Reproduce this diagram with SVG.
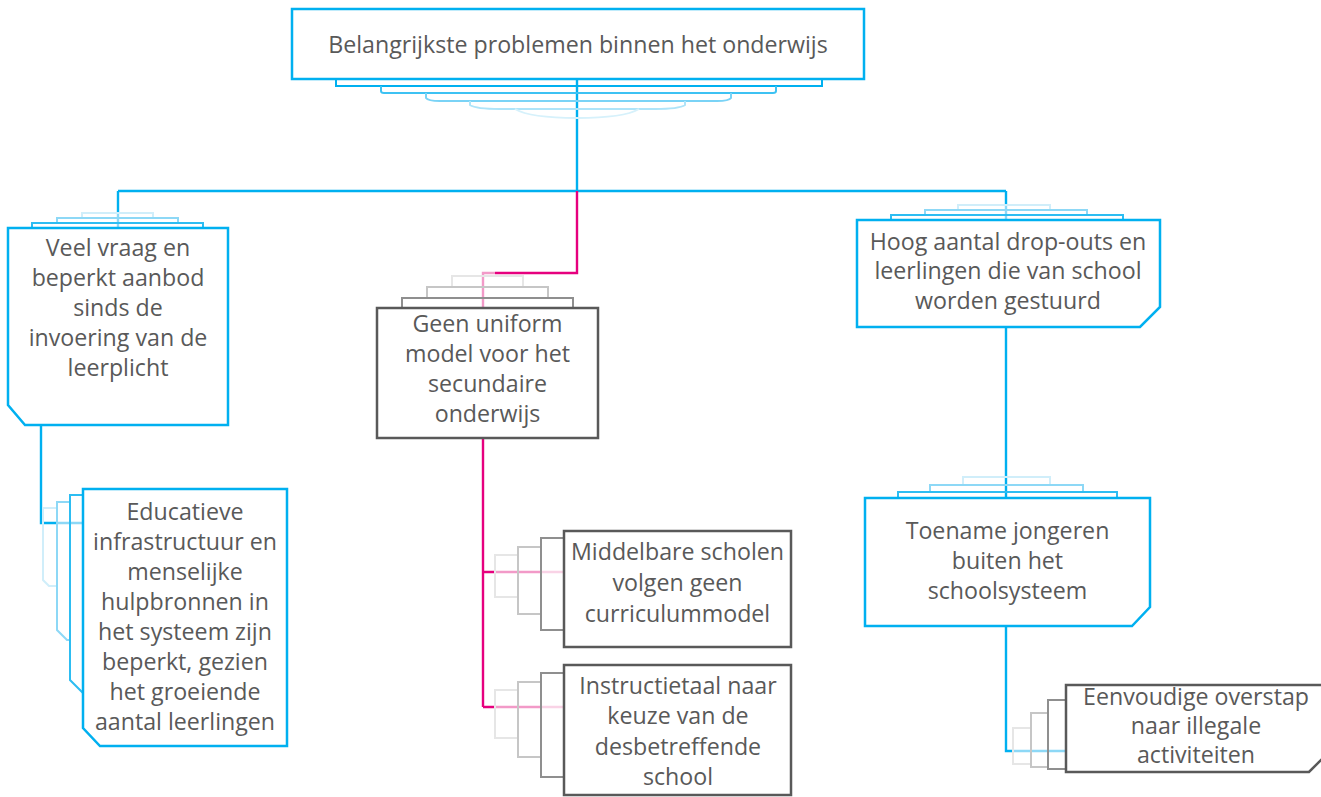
<svg xmlns="http://www.w3.org/2000/svg" width="1321" height="797" viewBox="0 0 1321 797">
<style>
text{font-family:"Open Sans","Liberation Sans",sans-serif;font-size:23.2px;fill:#595959;text-anchor:middle}
.box{fill:#fff;stroke-width:2.5}
.b{stroke:#00b0f0}
.g{stroke:#595959}
.sh{fill:none;stroke-width:2}
.b1{stroke:#2dbdf2}.b2{stroke:#8dd8f6}.b3{stroke:#d0eefa}
.g1{stroke:#8f8f8f}.g2{stroke:#c6c6c6}.g3{stroke:#e6e6e6}
.c{fill:none;stroke-width:2.4}
</style>
<rect width="1321" height="797" fill="#fff"/>
<g id="connectors">
<path class="c b" d="M577,79 V191 M118,191 H1006 M118,191 V213 M1006,191 V205"/>
<path class="c b2" d="M118,213 V228 M1006,205 V220"/>
<path class="c" stroke="#e6007e" d="M577,191 V273 H495"/>
<path class="c" stroke="#f29ac8" d="M495,273 H483 V308"/>
<path class="c b" d="M41,425 V523 H57 M1006,327 V498 M1006,626 V751 H1013"/>
<path class="c b2" d="M57,523 H83 M1013,751 H1066"/>
<path class="c" stroke="#e6007e" d="M483,438 V707 M483,572 H495 M483,707 H495"/>
<path class="c" stroke="#f29ac8" d="M495,572 H541 M495,707 H541"/>
<path class="c" stroke="#f9d3e6" d="M541,572 H564 M541,707 H564"/>
</g>
<g id="n0">
<path class="sh b" d="M336,79 V86 H822 V79"/>
<path class="sh" stroke="#3dc2f3" d="M381,86 V91 Q381,93 384,93 H773 Q776,93 776,91 V86"/>
<path class="sh" stroke="#7ad3f6" d="M426,93 V98 Q428,101 440,101 H717 Q729,101 731,98 V93"/>
<path class="sh" stroke="#aee4f9" d="M470,101 V105 Q476,109 500,109 H655 Q679,109 685,105 V101"/>
<path class="sh" stroke="#d6f1fb" d="M515,109 Q530,118 577,118 Q624,118 639,109"/>
<rect class="box b" x="292" y="9" width="572" height="70"/>
<text x="578" y="53">Belangrijkste problemen binnen het onderwijs</text>
</g>
<g id="n1">
<path class="sh b3" d="M82,218 V213 H153 V218"/>
<path class="sh b2" d="M57,223 V218 H178 V223"/>
<path class="sh b1" d="M32,228 V223 H203 V228"/>
<path class="box b" d="M8,228 H228 V425 H25 L8,405 Z"/>
<text x="118" y="256">Veel vraag en</text>
<text x="118" y="286">beperkt aanbod</text>
<text x="118" y="316">sinds de</text>
<text x="118" y="346">invoering van de</text>
<text x="118" y="376">leerplicht</text>
</g>
<g id="n2">
<path class="sh b3" d="M57,508 H43 V580 L49,586 H57"/>
<path class="sh b2" d="M70,502 H57 V630 L67,640 H70"/>
<path class="sh b1" d="M83,495 H70 V680 L83,693"/>
<path class="box b" d="M83,489 H287 V746 H100 L83,728 Z"/>
<text x="185" y="520">Educatieve</text>
<text x="185" y="550">infrastructuur en</text>
<text x="185" y="580">menselijke</text>
<text x="185" y="610">hulpbronnen in</text>
<text x="185" y="640">het systeem zijn</text>
<text x="185" y="670">beperkt, gezien</text>
<text x="185" y="700">het groeiende</text>
<text x="185" y="730">aantal leerlingen</text>
</g>
<g id="n3">
<path class="sh g3" d="M452,287 V276 H523 V287"/>
<path class="sh g2" d="M427,298 V287 H548 V298"/>
<path class="sh g1" d="M402,308 V298 H573 V308"/>
<rect class="box g" x="377" y="308" width="221" height="130"/>
<text x="487.5" y="332">Geen uniform</text>
<text x="487.5" y="362">model voor het</text>
<text x="487.5" y="392">secundaire</text>
<text x="487.5" y="422">onderwijs</text>
</g>
<g id="n4">
<path class="sh g3" d="M518,555 H495 V597 H518"/>
<path class="sh g2" d="M541,547 H518 V614 H541"/>
<path class="sh g1" d="M564,538 H541 V630 H564"/>
<rect class="box g" x="564" y="531" width="227" height="116"/>
<text x="677.5" y="560">Middelbare scholen</text>
<text x="677.5" y="591">volgen geen</text>
<text x="677.5" y="622">curriculummodel</text>
</g>
<g id="n5">
<path class="sh g3" d="M518,690 H495 V738 H518"/>
<path class="sh g2" d="M541,682 H518 V757 H541"/>
<path class="sh g1" d="M564,673 H541 V777 H564"/>
<rect class="box g" x="564" y="665" width="227" height="130"/>
<text x="678" y="694">Instructietaal naar</text>
<text x="678" y="724">keuze van de</text>
<text x="678" y="755">desbetreffende</text>
<text x="678" y="785">school</text>
</g>
<g id="n6">
<path class="sh b3" d="M958,210 V205 H1050 V210"/>
<path class="sh b2" d="M925,215 V210 H1087 V215"/>
<path class="sh b1" d="M891,220 V215 H1123 V220"/>
<path class="box b" d="M857,220 H1160 V307 L1140,327 H857 Z"/>
<text x="1008" y="250">Hoog aantal drop-outs en</text>
<text x="1008" y="279">leerlingen die van school</text>
<text x="1008" y="309">worden gestuurd</text>
</g>
<g id="n7">
<path class="sh b3" d="M963,485 V477 H1050 V485"/>
<path class="sh b2" d="M930,492 V485 H1083 V492"/>
<path class="sh b1" d="M898,498 V492 H1117 V498"/>
<path class="box b" d="M865,498 H1150 V607 L1132,626 H865 Z"/>
<text x="1007.5" y="539">Toename jongeren</text>
<text x="1007.5" y="569">buiten het</text>
<text x="1007.5" y="599">schoolsysteem</text>
</g>
<g id="n8">
<path class="sh g3" d="M1031,728 H1013 V764 H1031"/>
<path class="sh g2" d="M1048,713 H1031 V767 H1048"/>
<path class="sh g1" d="M1066,700 H1048 V769 H1066"/>
<path class="box g" d="M1066,685 H1324 V757 L1309,772 H1066 Z"/>
<text x="1196" y="705">Eenvoudige overstap</text>
<text x="1196" y="734">naar illegale</text>
<text x="1196" y="763">activiteiten</text>
</g>
</svg>
